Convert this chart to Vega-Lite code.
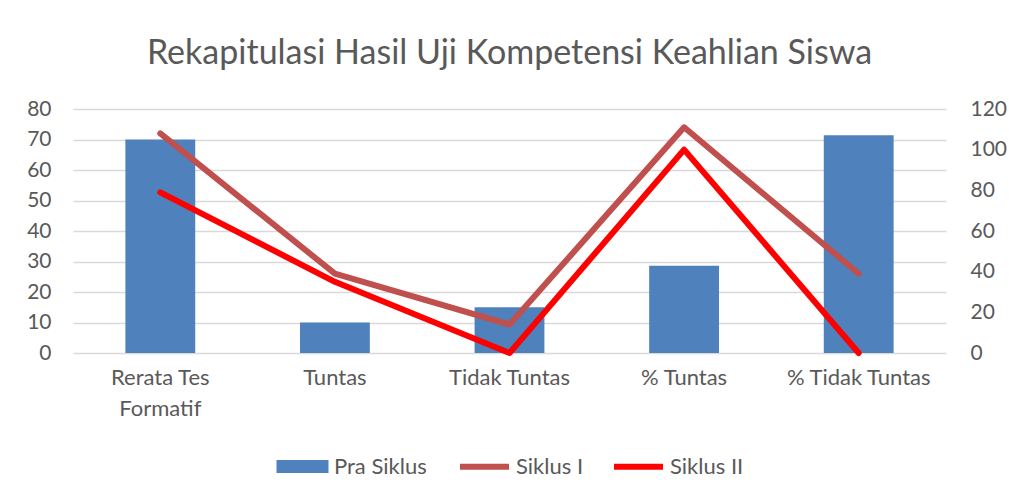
{
  "$schema": "https://vega.github.io/schema/vega-lite/v6.json",
  "width": 873,
  "height": 244,
  "autosize": "none",
  "padding": {"left": 73, "top": 109, "right": 63, "bottom": 147},
  "background": "white",
  "title": {
    "text": "Rekapitulasi Hasil Uji Kompetensi Keahlian Siswa",
    "font": "Lato",
    "fontSize": 34,
    "fontWeight": "normal",
    "color": "#595959",
    "offset": 27,
    "anchor": "middle"
  },
  "config": {
    "font": "Lato",
    "view": {"stroke": null},
    "legend": {"layout": {"bottom": {"anchor": "middle", "direction": "horizontal", "margin": 30}}}
  },
  "data": {
    "values": [
      {"kategori": "Rerata Tes Formatif", "seri": "Pra Siklus", "nilai": 70},
      {"kategori": "Tuntas", "seri": "Pra Siklus", "nilai": 10},
      {"kategori": "Tidak Tuntas", "seri": "Pra Siklus", "nilai": 15},
      {"kategori": "% Tuntas", "seri": "Pra Siklus", "nilai": 28.6},
      {"kategori": "% Tidak Tuntas", "seri": "Pra Siklus", "nilai": 71.4},
      {"kategori": "Rerata Tes Formatif", "seri": "Siklus I", "nilai": 108},
      {"kategori": "Tuntas", "seri": "Siklus I", "nilai": 39},
      {"kategori": "Tidak Tuntas", "seri": "Siklus I", "nilai": 14},
      {"kategori": "% Tuntas", "seri": "Siklus I", "nilai": 111},
      {"kategori": "% Tidak Tuntas", "seri": "Siklus I", "nilai": 39},
      {"kategori": "Rerata Tes Formatif", "seri": "Siklus II", "nilai": 79},
      {"kategori": "Tuntas", "seri": "Siklus II", "nilai": 35},
      {"kategori": "Tidak Tuntas", "seri": "Siklus II", "nilai": 0},
      {"kategori": "% Tuntas", "seri": "Siklus II", "nilai": 100},
      {"kategori": "% Tidak Tuntas", "seri": "Siklus II", "nilai": 0}
    ]
  },
  "encoding": {
    "x": {
      "field": "kategori",
      "type": "nominal",
      "sort": ["Rerata Tes Formatif", "Tuntas", "Tidak Tuntas", "% Tuntas", "% Tidak Tuntas"],
      "scale": {"paddingInner": 0.6, "paddingOuter": 0.3},
      "axis": {
        "title": null,
        "labelAngle": 0,
        "labelFontSize": 22,
        "labelColor": "#595959",
        "labelPadding": 14,
        "labelLineHeight": 31,
        "labelBaseline": "top",
        "ticks": false,
        "domain": false,
        "labelExpr": "datum.label == 'Rerata Tes Formatif' ? ['Rerata Tes', 'Formatif'] : datum.label"
      }
    }
  },
  "layer": [
    {
      "transform": [{"filter": "datum.seri == 'Pra Siklus'"}],
      "mark": {"type": "bar"},
      "encoding": {
        "y": {
          "field": "nilai",
          "type": "quantitative",
          "scale": {"domain": [0, 80]},
          "axis": {
            "title": null,
            "orient": "left",
            "values": [0, 10, 20, 30, 40, 50, 60, 70, 80],
            "labelFontSize": 21,
            "labelColor": "#595959",
            "labelPadding": 22,
            "ticks": false,
            "domain": false,
            "grid": true,
            "gridColor": "#d9d9d9",
            "gridWidth": 1.5
          }
        },
        "fill": {
          "field": "seri",
          "type": "nominal",
          "scale": {"domain": ["Pra Siklus"], "range": ["#4F81BD"]},
          "legend": {
            "title": null,
            "orient": "bottom",
            "direction": "horizontal",
            "symbolType": "M-0.945,-0.236H0.945V0.236H-0.945Z",
            "symbolSize": 3025,
            "symbolStrokeWidth": 0,
            "symbolOpacity": 1,
            "labelFontSize": 22,
            "labelColor": "#595959",
            "labelOffset": 4,
            "offset": 20
          }
        }
      }
    },
    {
      "transform": [{"filter": "datum.seri != 'Pra Siklus'"}],
      "mark": {"type": "line", "strokeWidth": 6, "strokeCap": "round", "strokeJoin": "round"},
      "encoding": {
        "x": {
          "field": "kategori",
          "type": "nominal",
          "bandPosition": 0.5,
          "sort": ["Rerata Tes Formatif", "Tuntas", "Tidak Tuntas", "% Tuntas", "% Tidak Tuntas"]
        },
        "y": {
          "field": "nilai",
          "type": "quantitative",
          "scale": {"domain": [0, 120]},
          "axis": {
            "title": null,
            "orient": "right",
            "values": [0, 20, 40, 60, 80, 100, 120],
            "labelFontSize": 21,
            "labelColor": "#595959",
            "labelPadding": 24,
            "ticks": false,
            "domain": false,
            "grid": false
          }
        },
        "stroke": {
          "field": "seri",
          "type": "nominal",
          "scale": {"domain": ["Siklus I", "Siklus II"], "range": ["#C0504D", "#FF0000"]},
          "legend": {
            "title": null,
            "orient": "bottom",
            "direction": "horizontal",
            "symbolType": "stroke",
            "symbolSize": 2401,
            "symbolStrokeWidth": 6,
            "labelFontSize": 22,
            "labelColor": "#595959",
            "labelOffset": 4,
            "columnPadding": 18,
            "offset": 20
          }
        }
      }
    }
  ],
  "resolve": {"scale": {"y": "independent"}}
}
